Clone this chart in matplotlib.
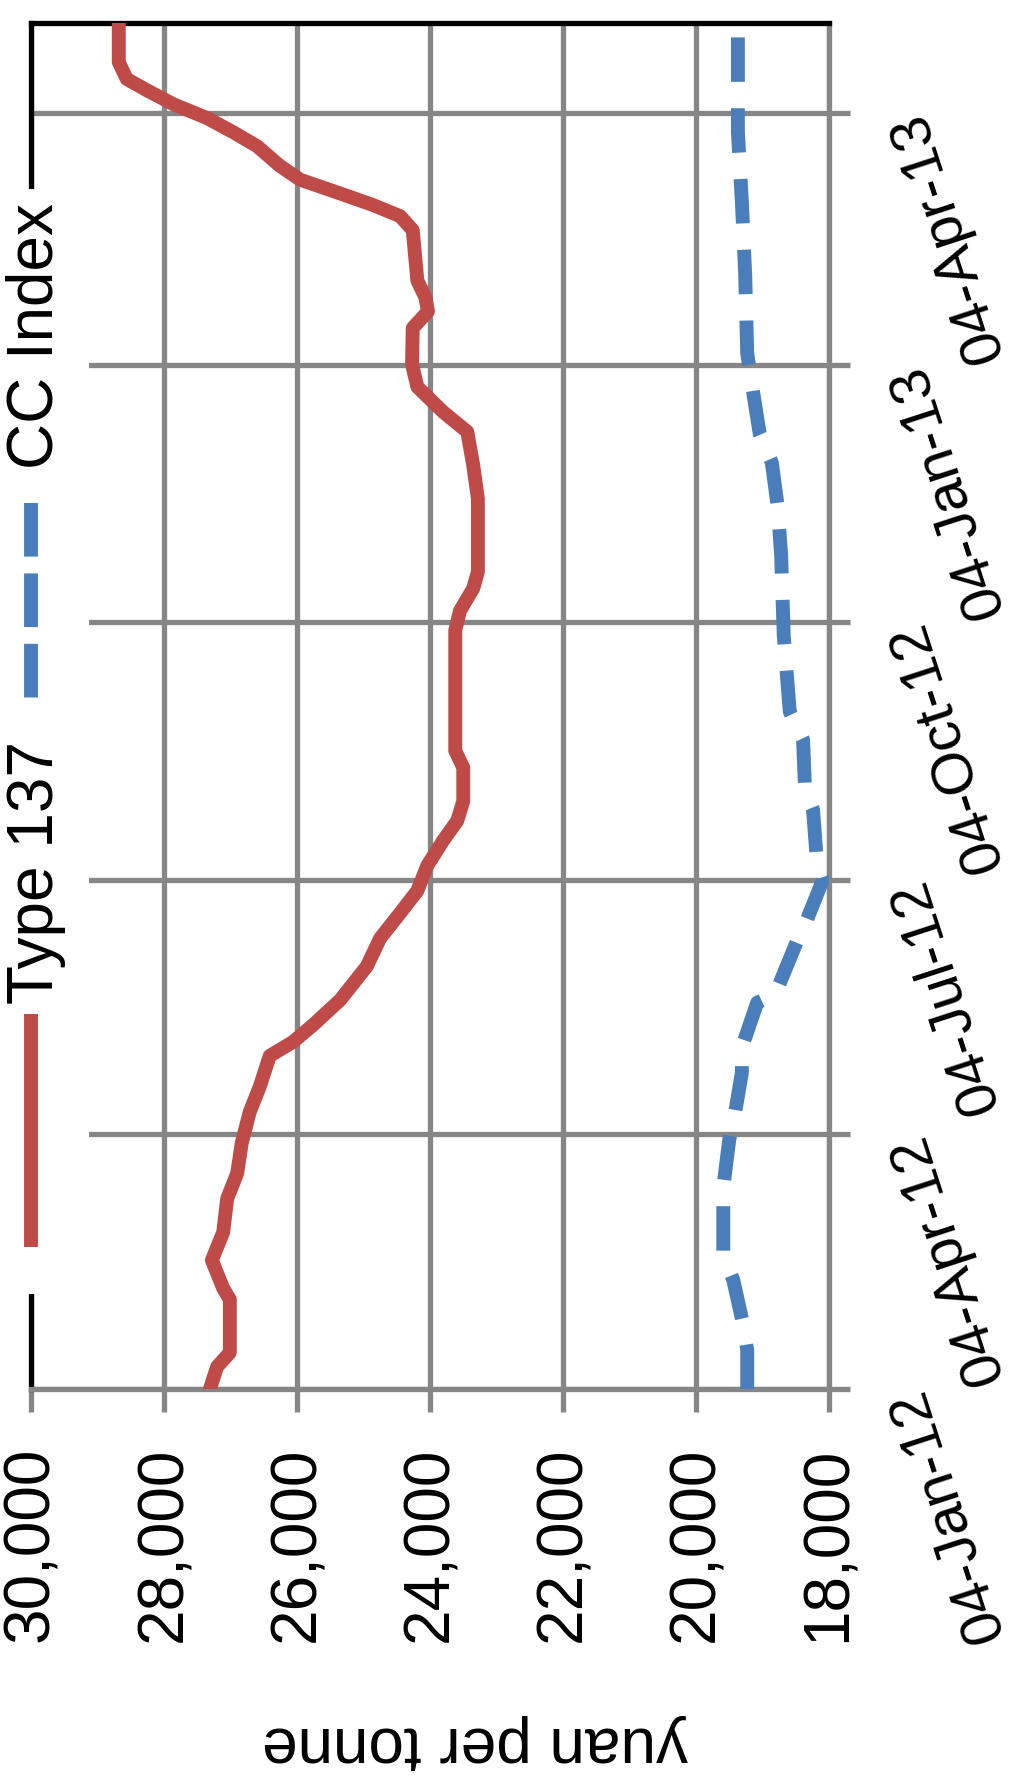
import numpy as np
import matplotlib
matplotlib.use('Agg')
import matplotlib.pyplot as plt
import matplotlib.dates as mdates
from matplotlib.lines import Line2D
from matplotlib.patches import Rectangle

plt.rcParams['font.family'] = ['Liberation Sans', 'DejaVu Sans']

type137_dates = ['2012-01-04', '2012-01-12', '2012-01-17', '2012-02-05', '2012-02-09',
                 '2012-02-19', '2012-02-29', '2012-03-12', '2012-03-21', '2012-04-01',
                 '2012-04-12', '2012-04-21', '2012-05-02', '2012-05-07', '2012-05-13',
                 '2012-05-22', '2012-06-03', '2012-06-13', '2012-06-22', '2012-06-30',
                 '2012-07-09', '2012-07-18', '2012-07-25', '2012-08-01', '2012-08-13',
                 '2012-08-19', '2012-10-01', '2012-10-08', '2012-10-16', '2012-10-22',
                 '2012-11-17', '2012-11-29', '2012-12-11', '2012-12-18', '2012-12-27',
                 '2013-01-04', '2013-01-17', '2013-01-23', '2013-01-28', '2013-02-03',
                 '2013-02-21', '2013-02-26', '2013-03-02', '2013-03-07', '2013-03-11',
                 '2013-03-16', '2013-03-23', '2013-03-28', '2013-04-02', '2013-04-07',
                 '2013-04-12', '2013-04-16', '2013-04-22', '2013-05-06']
type137_values = [27310, 27200, 27010, 27010, 27110,
                  27280, 27110, 27050, 26900, 26830,
                  26710, 26560, 26410, 26060, 25760,
                  25350, 24950, 24750, 24450, 24190,
                  24040, 23800, 23590, 23500, 23500,
                  23620, 23620, 23550, 23350, 23280,
                  23280, 23350, 23440, 23800, 24190,
                  24270, 24260, 24030, 24070, 24190,
                  24260, 24450, 24860, 25460, 25950,
                  26260, 26600, 26960, 27350, 27860,
                  28260, 28560, 28680, 28680]

cc_dates = ['2012-01-04', '2012-01-18', '2012-01-27', '2012-02-12', '2012-02-21',
            '2012-03-16', '2012-04-02', '2012-04-12', '2012-04-26', '2012-05-05',
            '2012-05-21', '2012-05-24', '2012-06-12', '2012-06-18', '2012-07-04',
            '2012-07-10', '2012-07-29', '2012-08-05', '2012-08-23', '2012-09-02',
            '2012-09-29', '2012-10-28', '2012-11-14', '2012-11-30', '2012-12-10',
            '2012-12-25', '2013-01-08', '2013-02-05', '2013-03-03', '2013-03-28',
            '2013-05-04']
cc_values = [19230, 19230, 19290, 19440, 19590,
             19590, 19500, 19410, 19310, 19310,
             19080, 18810, 18480, 18360, 18090,
             18180, 18240, 18360, 18390, 18590,
             18680, 18720, 18770, 18860, 19040,
             19140, 19230, 19260, 19310, 19370,
             19370]

date_ticks = ['2012-01-04', '2012-04-04', '2012-07-04', '2012-10-04', '2013-01-04', '2013-04-04']
date_labels = ['04-Jan-12', '04-Apr-12', '04-Jul-12', '04-Oct-12', '04-Jan-13', '04-Apr-13']
value_ticks = [30000, 28000, 26000, 24000, 22000, 20000, 18000]
value_labels = ['30,000', '28,000', '26,000', '24,000', '22,000', '20,000', '18,000']

RED = '#BE4B48'
BLUE = '#4A7EBB'
GRID = '#868686'
FS = 46

W, H = 1014, 1783


def d(s):
    return mdates.date2num(np.array(s, dtype='datetime64[D]'))


fig = plt.figure(figsize=(W / 100, H / 100), dpi=100)
ax = fig.add_axes([31 / W, 1 - 1390 / H, (829 - 31) / W, (1390 - 24) / H])

# chart is shown rotated: values run along x (inverted), dates along y
ax.plot(cc_values, d(cc_dates), color=BLUE, lw=10, dashes=(3.2, 1.9),
        dash_capstyle='butt', zorder=3)
ax.plot(type137_values, d(type137_dates), color=RED, lw=10,
        solid_capstyle='round', solid_joinstyle='round', zorder=4)

ax.set_xlim(30000, 18000)
ax.set_ylim(d('2012-01-04'), d('2013-05-06'))

ax.set_axisbelow(True)
ax.grid(True, color=GRID, lw=3.8)
for side in ['top', 'left']:
    ax.spines[side].set_color('black')
    ax.spines[side].set_linewidth(3.8)
for side in ['bottom', 'right']:
    ax.spines[side].set_color(GRID)
    ax.spines[side].set_linewidth(3.8)

ax.tick_params(axis='x', length=16.5, width=3.8, color=GRID, pad=24.5, labelsize=FS)
ax.set_xticks(value_ticks, value_labels, rotation=90)

ax.yaxis.tick_right()
ax.tick_params(axis='y', length=15, width=3.8, color=GRID, pad=42, labelsize=42)
ax.set_yticks(d(date_ticks), date_labels, rotation=108, rotation_mode='anchor',
              ha='right', va='center')

# legend, drawn sideways like the rest of the chart
fig.add_artist(Rectangle((0, 1 - 1295 / H), 89 / W, (1295 - 190) / H,
                         transform=fig.transFigure, facecolor='white',
                         edgecolor='none', zorder=3))
fig.add_artist(Line2D([31 / W, 31 / W], [1 - 504 / H, 1 - 701 / H], color=BLUE, lw=10,
                      dashes=(3.86, 1.21), dash_capstyle='butt',
                      transform=fig.transFigure, zorder=4))
fig.add_artist(Line2D([31 / W, 31 / W], [1 - 1015 / H, 1 - 1248 / H], color=RED, lw=10,
                      solid_capstyle='butt', transform=fig.transFigure, zorder=4))
fig.text(53 / W, 1 - 336 / H, 'CC Index', rotation=90, rotation_mode='anchor',
         ha='center', va='baseline', fontsize=FS, zorder=5)
fig.text(53 / W, 1 - 873 / H, 'Type 137', rotation=90, rotation_mode='anchor',
         ha='center', va='baseline', fontsize=FS, zorder=5)

fig.text(475 / W, 1 - 1727 / H, 'yuan per tonne', rotation=180, rotation_mode='anchor',
         ha='center', va='baseline', fontsize=FS)

fig.savefig('out.png', dpi=100)
